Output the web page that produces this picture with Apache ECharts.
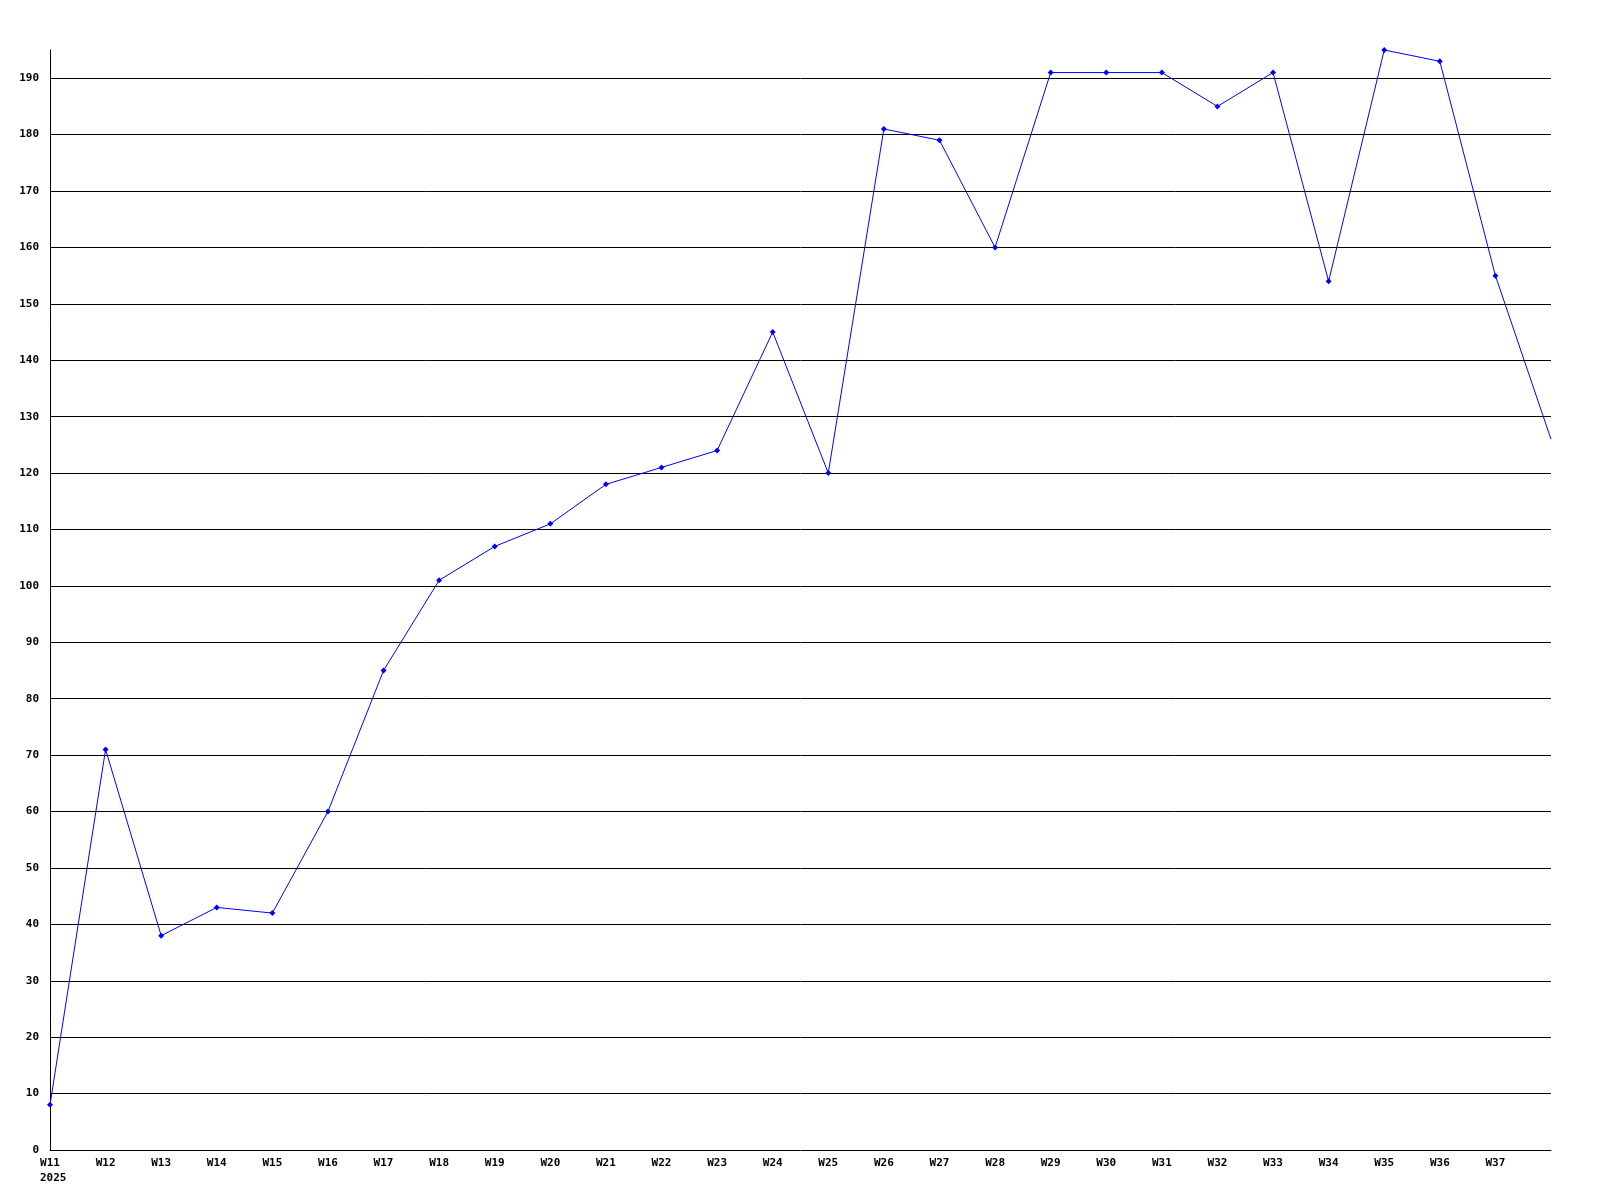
<!DOCTYPE html>
<html>
<head>
<meta charset="utf-8">
<script src="https://cdn.jsdelivr.net/npm/echarts@6/dist/echarts.min.js"></script>
<style>
html,body{margin:0;padding:0;background:#fff;}
#chart{width:1600px;height:1200px;}
</style>
</head>
<body>
<div id="chart"></div>
<script>
const weeks = ['W11','W12','W13','W14','W15','W16','W17','W18','W19','W20','W21','W22','W23','W24','W25','W26','W27','W28','W29','W30','W31','W32','W33','W34','W35','W36','W37','W38'];
const values = [8,71,38,43,42,60,85,101,107,111,118,121,124,145,120,181,179,160,191,191,191,185,191,154,195,193,155,126];
const yearLabel = '2025';
const yMin = 0, yMax = 195, yStep = 10;

const FONT = '"DejaVu Sans Mono", "Liberation Mono", monospace';
const chart = echarts.init(document.getElementById('chart'), null, {renderer: 'canvas'});
const last = weeks.length - 1;
chart.setOption({
  animation: false,
  backgroundColor: '#fff',
  grid: {left: 50, right: 49, top: 50, bottom: 50, containLabel: false},
  xAxis: {
    type: 'category',
    data: weeks,
    boundaryGap: false,
    axisLine: {show: true, lineStyle: {color: '#000', width: 1}},
    axisTick: {show: false},
    splitLine: {show: false},
    axisLabel: {
      interval: 0,
      margin: 6,
      color: '#000',
      fontFamily: FONT,
      fontWeight: 'bold',
      fontSize: 11,
      lineHeight: 15,
      formatter: function (v, i) {
        if (i === last) return '';
        if (i === 0) return '{a|' + v + '}\n{b|' + yearLabel + '}';
        return '{a|' + v + '}';
      },
      rich: {
        a: {fontFamily: FONT, fontWeight: 'bold', fontSize: 11, color: '#000', lineHeight: 15},
        b: {fontFamily: FONT, fontWeight: 'bold', fontSize: 11, color: '#000', lineHeight: 15, width: 20, align: 'left'}
      }
    }
  },
  yAxis: {
    type: 'value',
    min: yMin,
    max: yMax,
    interval: yStep,
    axisLine: {show: true, lineStyle: {color: '#000', width: 1}},
    axisTick: {show: false},
    splitLine: {show: true, showMinLine: false, showMaxLine: false, lineStyle: {color: '#000', width: 1}},
    axisLabel: {
      margin: 11,
      color: '#000',
      fontFamily: FONT,
      fontWeight: 'bold',
      fontSize: 11,
      showMaxLabel: false
    }
  },
  series: [{
    type: 'line',
    data: values,
    color: '#0000ff',
    lineStyle: {color: '#0000ff', width: 1},
    itemStyle: {color: '#0000ff'},
    symbol: function (v, p) { return p.dataIndex === last ? 'none' : 'diamond'; },
    symbolSize: 6,
    showAllSymbol: true,
    clip: true
  }]
});
</script>
</body>
</html>
